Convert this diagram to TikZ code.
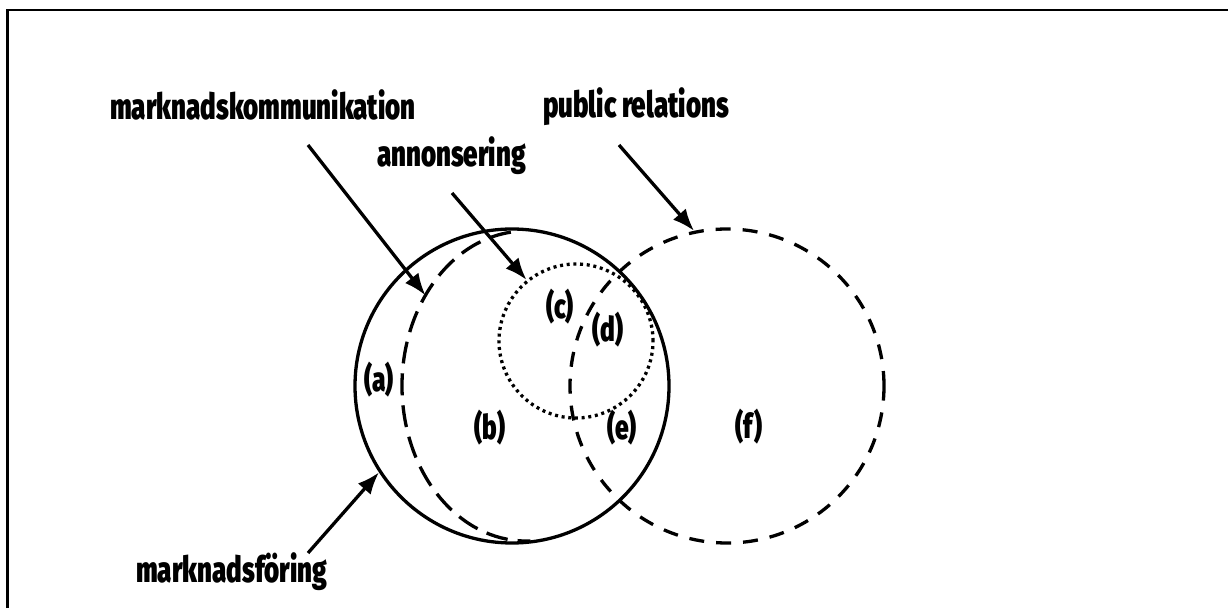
\documentclass[tikz,border=0pt]{standalone}
\usepackage{fontspec}
\newfontfamily\lblfont[UprightFont={* Black},FakeStretch=0.72]{Fira Sans}
\usetikzlibrary{arrows.meta,calc}
\tikzset{
  txt/.style={inner sep=0pt,anchor=base west,font=\lblfont\fontsize{36}{36}\selectfont},
  lbl/.style={inner sep=0pt,font=\lblfont\fontsize{34}{34}\selectfont},
  arr/.style={line width=3.3pt,-{Latex[length=22pt,width=17pt]}},
  solidc/.style={circle,draw,line width=3.3pt,inner sep=0pt,minimum size=314pt},
  dashc/.style={circle,draw,line width=3.3pt,inner sep=0pt,minimum size=314pt,dash pattern=on 15pt off 12pt},
  dotc/.style={circle,draw,line width=3.3pt,inner sep=0pt,minimum size=154pt,dash pattern=on 3pt off 3.7pt},
  dashe/.style={line width=3.3pt,dash pattern=on 22pt off 10pt}
}
\begin{document}
\begin{tikzpicture}[x=1pt,y=1pt]
\useasboundingbox (0,0) rectangle (1228,608);
% frame
\draw[line width=2.6pt] (7.5,0) -- (7.5,598) -- (1228,598);
% circles
\node[solidc] (mf) at (512,222) {};
\node[dashc] (pr) at (727,222) {};
\node[dotc] (an) at (576,267) {};
\coordinate (mkc) at (526,222);
\draw[dashe] ($(mkc)+(97:124 and 155)$) arc[start angle=97,end angle=272,x radius=124,y radius=155];
\coordinate (mkt) at ($(mkc)+(144.2:124 and 155)$);
% texts
\node[txt] (tmk) at (110,488) {marknadskommunikation};
\node[txt] (tpr) at (543,490) {public relations};
\node[txt] (tan) at (377,441) {annonsering};
\node[txt] (tmf) at (136,26) {marknadsföring};
% labels
\node[lbl] (la) at (379,228) {(a)};
\node[lbl] (lb) at (490,180) {(b)};
\node[lbl] (lc) at (560,301) {(c)};
\node[lbl] (ld) at (608,278) {(d)};
\node[lbl] (le) at (622,180) {(e)};
\node[lbl] (lf) at (749,181) {(f)};
% arrow starts
\coordinate (smk) at (308,463);
\coordinate (san) at (452,415);
\coordinate (spr) at (619,463);
\coordinate (smf) at (308,55);
\draw[arr] (smk) -- (mkt);
\draw[arr] (san) -- (an.129);
\draw[arr] (spr) -- (pr.102.6);
\draw[arr] (smf) -- (mf.213);
\end{tikzpicture}
\end{document}
